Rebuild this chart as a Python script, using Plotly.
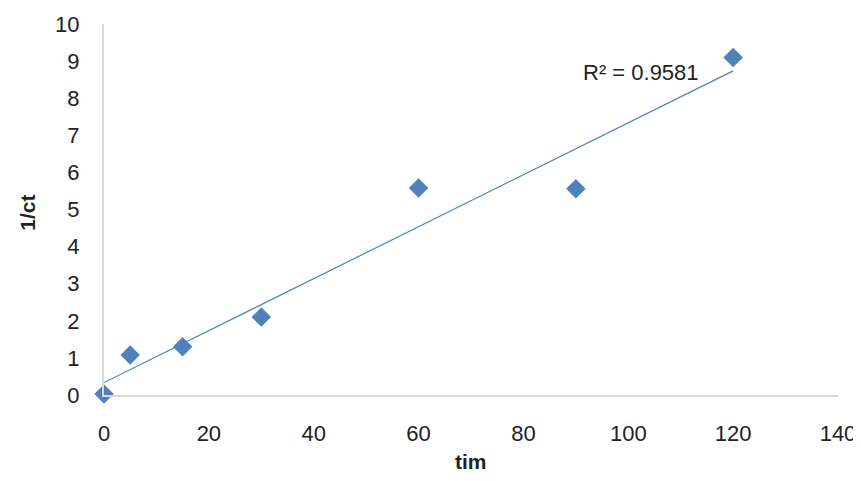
import numpy as np
import plotly.graph_objects as go

time_vals = [0, 5, 15, 30, 60, 90, 120]
inv_ct = [0.03, 1.08, 1.3, 2.1, 5.58, 5.56, 9.1]
x_ticks = [0, 20, 40, 60, 80, 100, 120, 140]
y_ticks = [0, 1, 2, 3, 4, 5, 6, 7, 8, 9, 10]
r2_label = "R² = 0.9581"
x_title = "tim"
y_title = "1/ct"

slope, intercept = np.polyfit(time_vals, inv_ct, 1)
trend_x = [min(time_vals), max(time_vals)]
trend_y = [intercept + slope * v for v in trend_x]

blue = "#4F81BD"
font_fam = "Liberation Sans, Arial, sans-serif"
txt = "#222222"

fig = go.Figure()
fig.add_trace(go.Scatter(x=trend_x, y=trend_y, mode="lines",
                         line=dict(color=blue, width=1.2), showlegend=False, hoverinfo="skip"))
fig.add_trace(go.Scatter(x=time_vals, y=inv_ct, mode="markers",
                         marker=dict(symbol="diamond", size=15, color=blue),
                         showlegend=False, cliponaxis=False))

fig.add_annotation(x=102.5, y=8.68, text=r2_label, showarrow=False,
                   font=dict(family=font_fam, size=22, color=txt))
fig.add_annotation(xref="paper", yref="paper", x=0.5, y=0, yshift=-80,
                   text="<b>" + x_title + "</b>", showarrow=False,
                   font=dict(family=font_fam, size=21, color=txt))
fig.add_annotation(xref="paper", yref="paper", x=0, xshift=-90, y=0.49,
                   text="<b>" + y_title + "</b>", showarrow=False, textangle=-90,
                   font=dict(family=font_fam, size=21, color=txt))

fig.update_layout(
    width=853, height=473,
    margin=dict(l=96, r=23, t=16, b=86),
    paper_bgcolor="white", plot_bgcolor="white",
    font=dict(family=font_fam, size=22, color=txt),
    xaxis=dict(range=[0, 140], tickvals=x_ticks, showgrid=False, zeroline=False,
               showline=True, linecolor="#D9D9D9", linewidth=2, ticks="",
               automargin=False, ticklabelstandoff=18,
               tickfont=dict(size=22)),
    yaxis=dict(range=[0, 10], tickvals=y_ticks, showgrid=False, zeroline=False,
               showline=True, linecolor="#D9D9D9", linewidth=2, ticks="",
               automargin=False, ticklabelstandoff=18,
               tickfont=dict(size=22)),
)

fig.write_html("out.html")
